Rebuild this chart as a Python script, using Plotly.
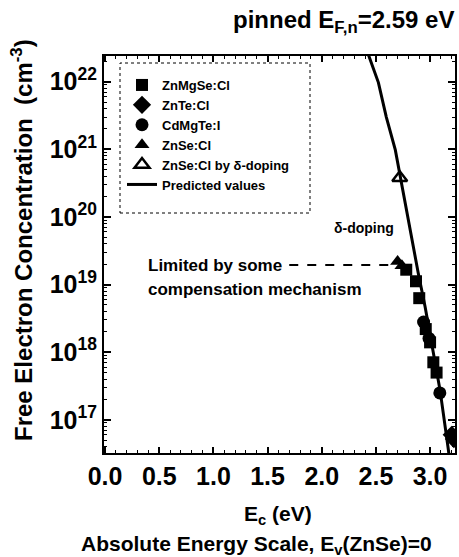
import plotly.graph_objects as go

# ---- data ----
curve_E = [2.40, 2.431, 2.523, 2.596, 2.679, 2.725, 2.780, 2.844, 2.890, 2.954, 3.028, 3.092, 3.165, 3.19]
curve_n = [3.0e22, 2.5e22, 9.7e21, 3.0e21, 9.8e20, 3.9e20, 1.3e20, 3.6e19, 1.5e19, 4.7e18, 1.1e18, 2.75e17, 4.0e16, 2.0e16]

znmgse_E = [2.78, 2.87, 2.90, 2.96, 3.00, 3.03, 3.06]
znmgse_n = [1.66e19, 1.12e19, 6.3e18, 2.2e18, 1.4e18, 7.1e17, 5.0e17]

znte_E = [3.20, 3.22]
znte_n = [6.0e16, 5.2e16]

cdmgte_E = [2.94, 2.99, 3.09]
cdmgte_n = [2.8e18, 1.6e18, 2.5e17]

znse_E = [2.70, 2.74]
znse_n = [2.2e19, 1.9e19]

delta_E = [2.72]
delta_n = [3.8e20]

comp_E = [1.70, 2.64]
comp_n = [1.95e19, 1.95e19]

x_ticks = [0.0, 0.5, 1.0, 1.5, 2.0, 2.5, 3.0]
x_tick_labels = ["0.0", "0.5", "1.0", "1.5", "2.0", "2.5", "3.0"]
y_decades = [16, 17, 18, 19, 20, 21, 22]
y_label_decades = [17, 18, 19, 20, 21, 22]

FONT = "Liberation Sans, Arial, sans-serif"

fig = go.Figure()
ms = 12
fig.add_trace(go.Scatter(x=znmgse_E, y=znmgse_n, mode="markers", name="<b>ZnMgSe:Cl</b>",
                         marker=dict(symbol="square", size=ms, color="black")))
fig.add_trace(go.Scatter(x=znte_E, y=znte_n, mode="markers", name="<b>ZnTe:Cl</b>",
                         marker=dict(symbol="diamond", size=ms + 2, color="black")))
fig.add_trace(go.Scatter(x=cdmgte_E, y=cdmgte_n, mode="markers", name="<b>CdMgTe:I</b>",
                         marker=dict(symbol="circle", size=ms + 1, color="black")))
fig.add_trace(go.Scatter(x=znse_E, y=znse_n, mode="markers", name="<b>ZnSe:Cl</b>",
                         marker=dict(symbol="triangle-up", size=ms + 1, color="black")))
fig.add_trace(go.Scatter(x=delta_E, y=delta_n, mode="markers", name="<b>ZnSe:Cl by δ-doping</b>",
                         marker=dict(symbol="triangle-up-open", size=ms + 1, color="black",
                                     line=dict(width=2.5, color="black"))))
fig.add_trace(go.Scatter(x=curve_E, y=curve_n, mode="lines", name="<b>Predicted values</b>",
                         line=dict(color="black", width=3)))
fig.add_trace(go.Scatter(x=comp_E, y=comp_n, mode="lines", showlegend=False,
                         line=dict(color="black", width=2, dash="dash")))

W, H = 459, 557
L, R, T, B = 104, 455, 56, 453


def px(x):
    return (x - L) / (R - L)


def py(y):
    return (B - y) / (B - T)


axis_common = dict(showline=True, linecolor="black", linewidth=2, mirror="allticks",
                   ticks="inside", tickcolor="black", tickwidth=1.5, showgrid=False,
                   zeroline=False, automargin=False)

minor_y = [k * 10.0 ** d for d in y_decades for k in range(2, 10)]

fig.update_xaxes(range=[-0.01, 3.23], tickmode="array", tickvals=x_ticks,
                 ticktext=["<b>%s</b>" % t for t in x_tick_labels], ticklen=6,
                 tickfont=dict(family=FONT, size=25, color="black"),
                 minor=dict(ticks="inside", ticklen=3, dtick=0.1, tickcolor="black", tickwidth=1),
                 **axis_common)
fig.update_yaxes(type="log", range=[16.51, 22.38], tickmode="array",
                 tickvals=[10.0 ** d for d in y_label_decades],
                 ticktext=["<b>10<sup>%d</sup></b>" % d for d in y_label_decades],
                 ticklen=7,
                 tickfont=dict(family=FONT, size=25, color="black"),
                 minor=dict(ticks="inside", ticklen=3, tickmode="array", tickvals=minor_y,
                            tickcolor="black", tickwidth=1),
                 **axis_common)

annotations = [
    dict(text="<b>pinned E<sub>F,n</sub>=2.59 eV</b>", xref="paper", yref="paper",
         x=px(456), y=py(22), xanchor="right", yanchor="middle", showarrow=False,
         font=dict(family=FONT, size=24, color="black")),
    dict(text="<b>Free Electron Concentration  (cm<sup>-3</sup>)</b>", xref="paper", yref="paper",
         x=px(22), y=py(240), textangle=-90, xanchor="center", yanchor="middle", showarrow=False,
         font=dict(family=FONT, size=24, color="black")),
    dict(text="<b>E<sub>c</sub> (eV)</b>", xref="paper", yref="paper",
         x=px(278), y=py(515), xanchor="center", yanchor="middle", showarrow=False,
         font=dict(family=FONT, size=21, color="black")),
    dict(text="<b>Absolute Energy Scale, E<sub>v</sub>(ZnSe)=0</b>", xref="paper", yref="paper",
         x=px(256), y=py(545), xanchor="center", yanchor="middle", showarrow=False,
         font=dict(family=FONT, size=21, color="black")),
    dict(text="<b>Limited by some</b>", xref="paper", yref="paper",
         x=px(146), y=py(265), xanchor="left", yanchor="middle", showarrow=False,
         font=dict(family=FONT, size=17, color="black")),
    dict(text="<b>compensation mechanism</b>", xref="paper", yref="paper",
         x=px(146), y=py(289), xanchor="left", yanchor="middle", showarrow=False,
         font=dict(family=FONT, size=17, color="black")),
    dict(text="<b>δ-doping</b>", xref="paper", yref="paper",
         x=px(396), y=py(228), xanchor="right", yanchor="middle", showarrow=False,
         font=dict(family=FONT, size=14, color="black")),
]

shapes = [
    dict(type="rect", xref="paper", yref="paper", x0=px(120), x1=px(310), y0=py(213), y1=py(63),
         line=dict(color="black", width=1, dash="dot")),
]

fig.update_layout(
    width=W, height=H,
    margin=dict(l=L, r=W - R, t=T, b=H - B, pad=0, autoexpand=False),
    paper_bgcolor="white", plot_bgcolor="white",
    font=dict(family=FONT, color="black"),
    showlegend=True,
    legend=dict(x=px(122), y=py(70), xanchor="left", yanchor="top",
                bgcolor="rgba(0,0,0,0)", borderwidth=0,
                font=dict(family=FONT, size=13, color="black"), tracegroupgap=0),
    annotations=annotations,
    shapes=shapes,
)

fig.write_html(
    "out.html",
    config={"displayModeBar": False},
    post_script="document.body.style.margin='0';document.body.style.overflow='hidden';",
)
